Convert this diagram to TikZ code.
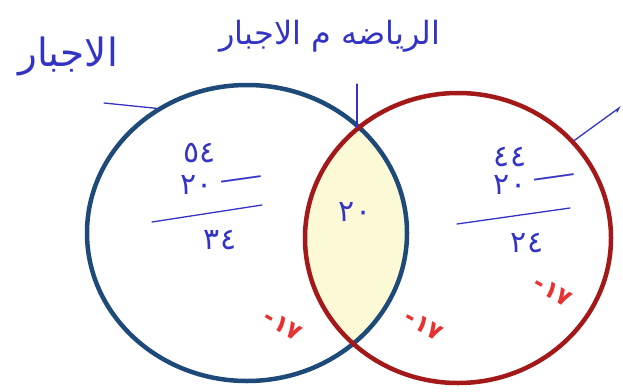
\documentclass[tikz,border=0pt]{standalone}
\usepackage{fontspec}
\newfontfamily\arabicfont[Script=Arabic]{DejaVu Sans}
\TeXXeTstate=1
\usetikzlibrary{shapes.geometric}

\definecolor{setblue}{HTML}{1E4A7A}
\definecolor{setred}{HTML}{A31818}
\definecolor{penblue}{HTML}{3434C4}
\definecolor{penred}{HTML}{E83232}
\definecolor{common}{HTML}{FCF9D6}

\begin{document}
\begin{tikzpicture}[x=1pt, y=-1pt,
    setA/.style={ellipse, draw=setblue, line width=4.5pt, inner sep=0pt, minimum width=320pt, minimum height=296pt},
    setB/.style={ellipse, draw=setred, line width=4.5pt, inner sep=0pt, minimum width=306pt, minimum height=290pt},
    title/.style={text=penblue, font=\arabicfont\fontsize{32}{34}\selectfont, inner sep=0pt},
    num/.style={text=penblue, font=\arabicfont\fontsize{30}{32}\selectfont, inner sep=0pt},
    minus/.style={text=penblue, font=\arabicfont\fontsize{26}{28}\selectfont, inner sep=0pt, rotate=8, xscale=1.7},
    share/.style={text=penred, font=\arabicfont\bfseries\fontsize{24}{26}\selectfont, rotate=-30, inner sep=0pt},
    leader/.style={penblue, line width=1.3pt, line cap=round},
    rule/.style={penblue, line width=1.3pt, line cap=round}
  ]
    \useasboundingbox (0,0) rectangle (623,391);

    \begin{scope}
      \clip (247,233) ellipse [x radius=160pt, y radius=148pt];
      \fill[common] (458,238) ellipse [x radius=153pt, y radius=145pt];
    \end{scope}

    \node[setA] (sport) at (247,233) {};
    \node[setB] (force) at (458,238) {};

    \node[title, font=\arabicfont\fontsize{39}{41}\selectfont] (lsport) at (68,56) {\beginR الاجبار\endR};
    \node[title] (lboth) at (330,36) {\beginR الرياضه م الاجبار\endR};

    \coordinate (lsportend) at (104,103);
    \coordinate (lbothend) at (357,84);
    \coordinate (lforceend) at (619,108);
    \draw[leader] (lsportend) -- (sport.126);
    \draw[leader] (lbothend) -- (357,127);
    \draw[leader] (force.40) -- (lforceend) -- ++(-2,4);

    \node[num] (atop) at (200,153) {٥٤};
    \node[num] (amid) at (197,185) {٢٠};
    \node[minus] (aminus) at (242,182) {—};
    \coordinate (arulel) at (152,222);
    \coordinate (aruler) at (262,205);
    \draw[rule] (arulel) -- (aruler);
    \node[num] (abot) at (220,240) {٣٤};

    \node[num] (btop) at (510,157) {٤٤};
    \node[num] (bmid) at (510,185) {٢٠};
    \node[minus] (bminus) at (555,180) {—};
    \coordinate (brulel) at (457,224);
    \coordinate (bruler) at (570,208);
    \draw[rule] (brulel) -- (bruler);
    \node[num] (bbot) at (527,243) {٢٤};

    \node[num] (both) at (355,212) {٢٠};

    \node[share] (sa) at (283,325) {-\kern1pt١٧};
    \node[share] (sb) at (424,325) {-\kern1pt١٧};
    \node[share] (sc) at (553,291) {-\kern1pt١٧};
  \end{tikzpicture}
\end{document}
